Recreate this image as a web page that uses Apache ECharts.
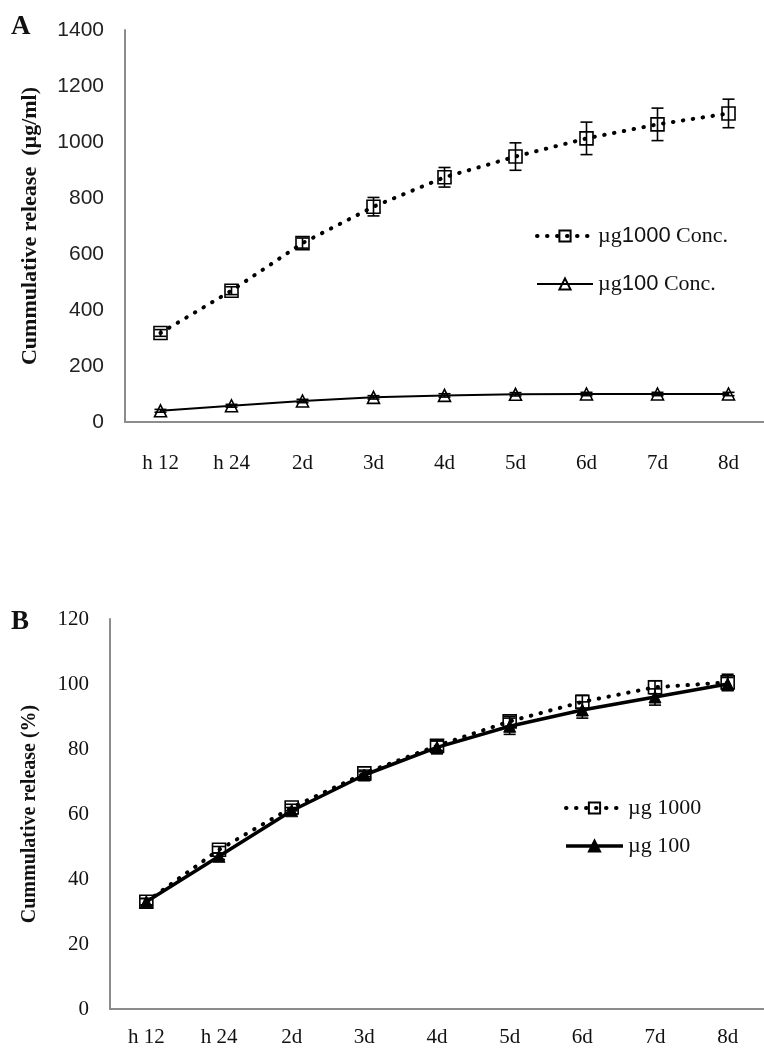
<!DOCTYPE html>
<html>
<head>
<meta charset="utf-8">
<script src="https://cdn.jsdelivr.net/npm/echarts@6/dist/echarts.min.js"></script>
<style>
  html, body { margin: 0; padding: 0; background: #fff; }
  #chart { width: 764px; height: 1051px; }
</style>
</head>
<body>
<div id="chart"></div>
<script>
// categories (time points)
const categories = ['h 12', 'h 24', '2d', '3d', '4d', '5d', '6d', '7d', '8d']

// panel A - cumulative release (µg/ml)
const concA1000 = [318, 469, 639, 769, 874, 948, 1013, 1063, 1102]
const errA1000 = [12, 14, 18, 33, 35, 49, 58, 58, 51]
const concA100 = [40, 58, 75, 88, 95, 99, 100, 100, 100]
const errA100 = [5, 5, 6, 6, 6, 6, 6, 6, 6]
const ticksA = [0, 200, 400, 600, 800, 1000, 1200, 1400]

// panel B - cumulative release (%)
const pctB1000 = [33, 49, 62, 72.5, 81, 88.5, 94.5, 99, 100.5]
const errB1000 = [1, 1, 1, 1, 1.5, 1.5, 2, 2, 2.5]
const pctB100 = [33, 47, 61, 72, 80.5, 87, 92, 96, 100]
const errB100 = [1, 1, 1, 1, 2, 2.5, 2.5, 2.5, 2]
const ticksB = [0, 20, 40, 60, 80, 100, 120]

const serif = '"Liberation Serif", "DejaVu Serif", serif'
const sans = '"Liberation Sans", Arial, sans-serif'
const axisGray = '#8c8c8c'

const chart = echarts.init(document.getElementById('chart'))

// error bars drawn via the axes' own coordinate system
function errorBars(gi, values, errs, z) {
  return {
    type: 'custom',
    xAxisIndex: gi,
    yAxisIndex: gi,
    silent: true,
    z: z,
    data: values.map((v, i) => [i, v - errs[i], v + errs[i]]),
    renderItem: (params, api) => {
      const lo = api.coord([api.value(0), api.value(1)])
      const hi = api.coord([api.value(0), api.value(2)])
      const hw = 6
      const st = { stroke: '#000', lineWidth: 1.6 }
      return {
        type: 'group',
        children: [
          { type: 'line', shape: { x1: lo[0], y1: lo[1], x2: hi[0], y2: hi[1] }, style: st },
          { type: 'line', shape: { x1: lo[0] - hw, y1: lo[1], x2: lo[0] + hw, y2: lo[1] }, style: st },
          { type: 'line', shape: { x1: hi[0] - hw, y1: hi[1], x2: hi[0] + hw, y2: hi[1] }, style: st }
        ]
      }
    }
  }
}

function xAxisCfg(gi, margin) {
  return {
    type: 'category',
    gridIndex: gi,
    data: categories,
    boundaryGap: true,
    axisLine: { lineStyle: { color: axisGray, width: 2 } },
    axisTick: { show: false },
    axisLabel: { color: '#111', fontFamily: serif, fontSize: 21, margin: margin },
    splitLine: { show: false }
  }
}

const dotted = { type: [0.5, 9.5], width: 4, cap: 'round', color: '#000' }
const hollow = { color: 'rgba(0,0,0,0)', borderColor: '#000', borderWidth: 1.6 }

const option = {
  animation: false,
  backgroundColor: '#fff',
  graphic: [
    { type: 'text', left: 11, top: 14, style: { text: 'A', font: 'bold 27px ' + serif, fill: '#111' } },
    { type: 'text', left: 11, top: 609, style: { text: 'B', font: 'bold 27px ' + serif, fill: '#111' } }
  ],
  grid: [
    { left: 125, top: 30, width: 9 * 72, height: 392 },
    { left: 110, top: 619, width: 9 * 73.75, height: 390 }
  ],
  xAxis: [xAxisCfg(0, 31), xAxisCfg(1, 18)],
  yAxis: [
    {
      type: 'value',
      gridIndex: 0,
      min: ticksA[0],
      max: ticksA[ticksA.length - 1],
      interval: ticksA[1] - ticksA[0],
      name: 'Cummulative release  (µg/ml)',
      nameLocation: 'middle',
      nameRotate: 90,
      nameGap: 84,
      nameTextStyle: { fontFamily: serif, fontWeight: 'bold', fontSize: 22, color: '#111' },
      axisLine: { show: true, lineStyle: { color: axisGray, width: 2 } },
      axisTick: { show: false },
      axisLabel: { color: '#222', fontFamily: sans, fontSize: 21, margin: 21, formatter: v => String(v) },
      splitLine: { show: false }
    },
    {
      type: 'value',
      gridIndex: 1,
      min: ticksB[0],
      max: ticksB[ticksB.length - 1],
      interval: ticksB[1] - ticksB[0],
      name: 'Cummulative release (%)',
      nameLocation: 'middle',
      nameRotate: 90,
      nameGap: 70,
      nameTextStyle: { fontFamily: serif, fontWeight: 'bold', fontSize: 20, color: '#111' },
      axisLine: { show: true, lineStyle: { color: axisGray, width: 2 } },
      axisTick: { show: false },
      axisLabel: { color: '#111', fontFamily: serif, fontSize: 21, margin: 21, formatter: v => String(v) },
      splitLine: { show: false }
    }
  ],
  legend: [
    {
      data: [
        { name: 'µg1000 Conc.', lineStyle: dotted },
        { name: 'µg100 Conc.', lineStyle: { width: 2, color: '#000' } }
      ],
      orient: 'vertical',
      left: 530,
      top: 220,
      itemWidth: 56,
      itemHeight: 14,
      itemGap: 26,
      formatter: name => name.replace(/^µg(\d+) (Conc\.)$/, '{s|µg}{n|$1}{s| $2}'),
      textStyle: {
        color: '#111',
        fontSize: 22,
        rich: {
          s: { fontFamily: serif, fontSize: 22, color: '#111' },
          n: { fontFamily: sans, fontSize: 22, color: '#111' }
        }
      }
    },
    {
      data: [
        { name: 'µg 1000', lineStyle: dotted },
        { name: 'µg 100', lineStyle: { width: 3.5, color: '#000' } }
      ],
      orient: 'vertical',
      left: 559,
      top: 792,
      itemWidth: 57,
      itemHeight: 14,
      itemGap: 16,
      textStyle: { color: '#111', fontFamily: serif, fontSize: 22 }
    }
  ],
  series: [
    {
      name: 'µg1000 Conc.',
      type: 'line',
      xAxisIndex: 0,
      yAxisIndex: 0,
      data: concA1000,
      symbol: 'rect',
      symbolSize: 13,
      lineStyle: dotted,
      itemStyle: hollow,
      z: 3
    },
    {
      name: 'µg100 Conc.',
      type: 'line',
      xAxisIndex: 0,
      yAxisIndex: 0,
      data: concA100,
      symbol: 'triangle',
      symbolSize: 12,
      lineStyle: { type: 'solid', width: 2, color: '#000' },
      itemStyle: hollow,
      z: 3
    },
    errorBars(0, concA1000, errA1000, 4),
    errorBars(0, concA100, errA100, 4),
    {
      name: 'µg 1000',
      type: 'line',
      xAxisIndex: 1,
      yAxisIndex: 1,
      data: pctB1000,
      symbol: 'rect',
      symbolSize: 13,
      lineStyle: dotted,
      itemStyle: hollow,
      z: 3
    },
    {
      name: 'µg 100',
      type: 'line',
      xAxisIndex: 1,
      yAxisIndex: 1,
      data: pctB100,
      symbol: 'triangle',
      symbolSize: 12,
      lineStyle: { type: 'solid', width: 3.5, color: '#000' },
      itemStyle: { color: '#000', borderColor: '#000', borderWidth: 1 },
      z: 3
    },
    errorBars(1, pctB1000, errB1000, 4),
    errorBars(1, pctB100, errB100, 4)
  ]
}

chart.setOption(option)
</script>
</body>
</html>
